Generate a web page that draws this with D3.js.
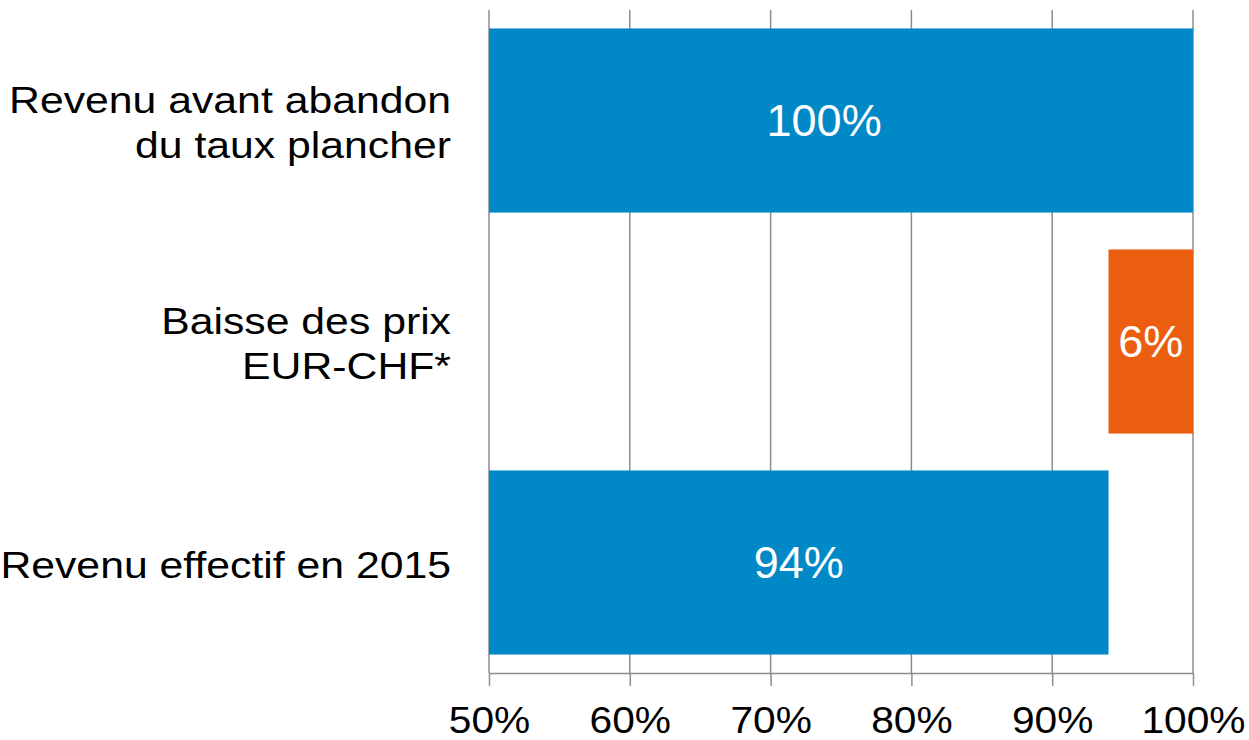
<!DOCTYPE html>
<html>
<head>
<meta charset="utf-8">
<script src="https://cdn.jsdelivr.net/npm/d3@7"></script>
<style>
    body { margin: 0; background: #fff; }
    text { font-family: Arial, "Liberation Sans", sans-serif; }
</style>
</head>
<body>
<div id="chart"></div>
<script>
// chart data
var categories = [
    ["Revenu avant abandon", "du taux plancher"],
    ["Baisse des prix", "EUR-CHF*"],
    ["Revenu effectif en 2015"]
];
var barStart = [50, 94, 50];
var barEnd = [100, 100, 94];
var barLabels = ["100%", "6%", "94%"];
var labelAt = [73.8, 97, 72];
var barColors = ["#0088c7", "#eb5e10", "#0088c7"];
var tickValues = [50, 60, 70, 80, 90, 100];

var margin = { top: 10, right: 56, bottom: 67, left: 489 };
var width = 1249 - margin.left - margin.right;
var height = 740 - margin.top - margin.bottom;

var svg = d3.select("#chart").append("svg")
    .attr("width", 1249)
    .attr("height", 740)
    .append("g")
    .attr("transform", "translate(" + margin.left + "," + margin.top + ")");

var x = d3.scaleLinear()
    .domain([50, 100])
    .range([0, width]);
var y = d3.scaleBand()
    .domain(d3.range(categories.length))
    .range([0, height])
    .paddingInner(0.167)
    .paddingOuter(0.0835);

// gridlines
svg.selectAll(".grid")
    .data(tickValues)
    .enter()
    .append("line")
    .attr("class", "grid")
    .attr("x1", function(d) { return x(d); })
    .attr("x2", function(d) { return x(d); })
    .attr("y1", 0)
    .attr("y2", height)
    .attr("stroke", "#8c8c8c")
    .attr("stroke-width", 1.5);

// bars
svg.selectAll(".bar")
    .data(d3.range(categories.length))
    .enter()
    .append("rect")
    .attr("class", "bar")
    .attr("x", function(i) { return x(barStart[i]); })
    .attr("y", function(i) { return y(i); })
    .attr("width", function(i) { return x(barEnd[i]) - x(barStart[i]); })
    .attr("height", y.bandwidth())
    .attr("fill", function(i) { return barColors[i]; });

// bar labels
svg.selectAll(".bar-label")
    .data(d3.range(categories.length))
    .enter()
    .append("text")
    .attr("class", "bar-label")
    .attr("x", function(i) { return x(labelAt[i]); })
    .attr("y", function(i) { return y(i) + y.bandwidth() / 2; })
    .attr("dy", "0.34em")
    .attr("text-anchor", "middle")
    .attr("fill", "#fff")
    .style("font-size", "45px")
    .text(function(i) { return barLabels[i]; });

// x axis
var xAxis = d3.axisBottom(x)
    .tickValues(tickValues)
    .tickSize(13)
    .tickSizeOuter(0)
    .tickPadding(0)
    .tickFormat(function(d) { return d + "%"; });

var gx = svg.append("g")
    .attr("class", "x-axis axis")
    .attr("transform", "translate(0," + height + ")")
    .call(xAxis);

gx.select(".domain").attr("stroke", "#8c8c8c").attr("stroke-width", 1.5);
gx.selectAll(".tick line").attr("stroke", "#8c8c8c").attr("stroke-width", 1.5);
gx.selectAll(".tick text")
    .attr("y", 60)
    .attr("dy", 0)
    .attr("fill", "#000")
    .attr("transform", "scale(1.1,1)")
    .style("font-size", "37px")
    .style("font-family", "Arial, 'Liberation Sans', sans-serif");

// category labels
var lineHeight = 46;
var cats = svg.selectAll(".cat")
    .data(d3.range(categories.length))
    .enter()
    .append("text")
    .attr("class", "cat")
    .attr("text-anchor", "end")
    .attr("fill", "#000")
    .style("font-size", "37px")
    .attr("transform", function(i) {
        var lines = categories[i].length;
        var base = y(i) + y.bandwidth() / 2 - (lines - 1) * lineHeight / 2 + 15;
        return "translate(-38," + base + ") scale(1.155,1)";
    });

cats.selectAll("tspan")
    .data(function(i) { return categories[i]; })
    .enter()
    .append("tspan")
    .attr("x", 0)
    .attr("y", function(d, j) { return j * lineHeight; })
    .text(function(d) { return d; });
</script>
</body>
</html>
